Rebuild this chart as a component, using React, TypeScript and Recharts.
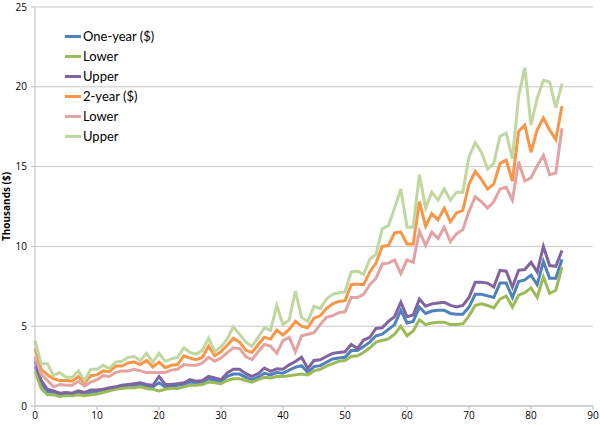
import React from 'react';
import { LineChart, Line, XAxis, YAxis, CartesianGrid } from 'recharts';

const ages = Array.from({ length: 86 }, (_, i) => i);

const oneYear = [
  2.5, 1.4, 0.9, 0.85, 0.75, 0.75, 0.75, 0.8, 0.8, 0.85,
  0.9, 1.0, 1.05, 1.15, 1.2, 1.25, 1.3, 1.35, 1.25, 1.2,
  1.45, 1.2, 1.25, 1.3, 1.35, 1.5, 1.45, 1.5, 1.7, 1.6,
  1.55, 1.85, 2.0, 2.0, 1.8, 1.65, 1.8, 2.05, 1.95, 2.1,
  2.05, 2.25, 2.43, 2.53, 2.11, 2.47, 2.53, 2.74, 2.95, 3.01,
  3.05, 3.47, 3.47, 3.72, 4.0, 4.4, 4.5, 4.8, 5.1, 6.0,
  5.2, 5.3, 6.2, 5.8, 5.95, 6.0, 6.0, 5.8, 5.75, 5.75,
  6.2, 7.0, 7.0, 6.9, 6.8, 7.7, 7.7, 6.8, 7.8, 7.9,
  8.2, 7.6, 9.05, 8.0, 8.0, 9.2,
];

const oneLower = [
  2.2, 1.1, 0.7, 0.7, 0.6, 0.65, 0.65, 0.7, 0.65, 0.7,
  0.75, 0.85, 0.95, 1.05, 1.1, 1.15, 1.15, 1.2, 1.1, 1.05,
  0.95, 1.05, 1.1, 1.1, 1.2, 1.3, 1.3, 1.35, 1.5, 1.45,
  1.4, 1.6, 1.7, 1.7, 1.6, 1.5, 1.65, 1.8, 1.75, 1.85,
  1.85, 1.9, 1.95, 2.0, 1.95, 2.2, 2.3, 2.5, 2.65, 2.8,
  2.85, 3.1, 3.15, 3.35, 3.65, 4.0, 4.1, 4.2, 4.5, 5.0,
  4.4, 4.7, 5.4, 5.1, 5.2, 5.25, 5.25, 5.1, 5.1, 5.15,
  5.65, 6.3, 6.4, 6.3, 6.15, 6.7, 6.9, 6.2, 6.95, 7.1,
  7.4, 6.8, 8.1, 7.05, 7.25, 8.7,
];

const oneUpper = [
  2.8, 1.6, 1.05, 0.95, 0.8, 0.85, 0.8, 0.95, 0.85, 1.0,
  1.0, 1.05, 1.15, 1.2, 1.3, 1.35, 1.4, 1.45, 1.35, 1.3,
  1.85, 1.35, 1.35, 1.4, 1.45, 1.65, 1.55, 1.6, 1.86, 1.76,
  1.65, 2.07, 2.3, 2.3, 2.02, 1.86, 2.02, 2.38, 2.17, 2.33,
  2.31, 2.58, 2.79, 3.06, 2.35, 2.85, 2.9, 3.1, 3.3, 3.35,
  3.4, 3.85, 3.6, 4.13, 4.3, 4.86, 4.9, 5.3, 5.6, 6.5,
  5.6, 5.7, 6.7, 6.25, 6.4, 6.45, 6.5, 6.3, 6.2, 6.3,
  6.8, 7.75, 7.75, 7.7, 7.45, 8.5, 8.45, 7.45, 8.5, 8.55,
  9.0, 8.4, 10.0, 8.8, 8.75, 9.75,
];

const twoYear = [
  3.6, 2.3, 1.95, 1.7, 1.6, 1.6, 1.55, 1.85, 1.45, 1.9,
  1.95, 2.2, 2.15, 2.5, 2.5, 2.7, 2.75, 2.6, 2.85, 2.45,
  2.75, 2.4, 2.55, 2.6, 3.15, 3.0, 2.9, 3.05, 3.75, 3.15,
  3.4, 3.8, 4.25, 4.0, 3.5, 3.35, 3.85, 4.3, 4.2, 4.75,
  4.45, 4.8, 5.3, 5.0, 4.9, 5.5, 5.65, 6.1, 6.4, 6.55,
  6.6, 7.6, 7.65, 7.6, 8.4, 8.95, 10.0, 10.05, 10.85, 10.9,
  10.15, 10.15, 12.8, 11.25, 12.05, 11.65, 12.4, 11.55, 12.1, 12.25,
  13.9, 14.7, 14.2, 13.6, 13.9, 15.2, 15.4, 14.1, 17.2, 17.6,
  15.9, 17.3, 18.05, 17.3, 16.7, 18.8,
];

const twoLower = [
  3.1, 2.0, 1.6, 1.2, 1.35, 1.3, 1.3, 1.55, 1.25, 1.5,
  1.65, 1.9, 1.85, 2.1, 2.2, 2.2, 2.3, 2.2, 2.1, 2.1,
  2.1, 2.1, 2.25, 2.3, 2.6, 2.55, 2.55, 2.7, 3.05, 2.8,
  3.0, 3.35, 3.65, 3.6, 3.1, 2.9, 3.4, 3.85, 3.75, 3.3,
  4.1, 4.3, 3.4, 4.4, 4.5, 4.6, 5.1, 5.55, 5.65, 5.85,
  5.9, 6.8, 6.8, 7.0, 7.6, 8.0, 8.9, 8.95, 9.15, 8.3,
  9.15, 9.0, 10.95, 10.05, 10.9, 10.5, 11.2, 10.3, 10.8, 11.05,
  12.2, 13.1, 12.8, 12.4, 12.8, 13.6, 13.7, 12.9, 15.3, 14.1,
  14.3, 15.05, 15.7, 14.5, 14.6, 17.4,
];

const twoUpper = [
  4.1, 2.65, 2.65, 1.9, 2.1, 1.8, 1.8, 2.2, 1.6, 2.3,
  2.3, 2.55, 2.35, 2.75, 2.8, 3.05, 3.1, 2.85, 3.3, 2.75,
  3.3, 2.8, 2.95, 3.05, 3.65, 3.35, 3.25, 3.5, 4.25, 3.4,
  3.7, 4.2, 4.95, 4.5, 4.0, 3.75, 4.3, 4.9, 4.75, 6.3,
  5.1, 5.4, 7.2, 5.55, 5.3, 6.25, 6.1, 6.7, 7.0, 7.1,
  7.15, 8.4, 8.45, 8.25, 9.2, 9.5, 11.1, 11.3, 12.4, 13.6,
  11.2, 11.2, 14.5, 12.4, 13.4, 12.9, 13.6, 12.9, 13.4, 13.4,
  15.6, 16.5, 15.9, 14.85, 15.2, 16.9, 17.1, 15.5, 19.4, 21.2,
  17.6, 19.3, 20.4, 20.3, 18.7, 20.2,
];

const xTicks = [0, 10, 20, 30, 40, 50, 60, 70, 80, 90];
const yTicks = [0, 5, 10, 15, 20, 25];

const seriesNames = ['One-year ($)', 'Lower', 'Upper', '2-year ($)', 'Lower', 'Upper'];
const seriesKeys = ['oneYear', 'oneLower', 'oneUpper', 'twoYear', 'twoLower', 'twoUpper'];
const seriesColors = ['#4f81bd', '#9bbb59', '#8064a2', '#f79646', '#e3a3a2', '#c0d8a0'];
const seriesValues = [oneYear, oneLower, oneUpper, twoYear, twoLower, twoUpper];

const data = ages.map((age, i) => {
  const row: Record<string, number> = { age };
  seriesKeys.forEach((k, j) => {
    row[k] = seriesValues[j][i];
  });
  return row;
});

const tickStyle = { fontSize: 10, fill: '#000', fontFamily: 'Open Sans, sans-serif' };

export default function App() {
  return (
    <div style={{ position: 'absolute', left: 0, top: 0, width: 600, height: 425, background: '#fff' }}>
      <LineChart width={600} height={425} data={data} margin={{ top: 7, right: 7, bottom: 0, left: 0 }}>
        <CartesianGrid vertical={false} stroke="#c8c8c8" strokeWidth={1} />
        <XAxis
          dataKey="age"
          type="number"
          domain={[0, 90]}
          ticks={xTicks}
          height={19}
          tickSize={4}
          tickMargin={2}
          stroke="#bdbdbd"
          tick={tickStyle}
          interval={0}
        />
        <YAxis
          type="number"
          domain={[0, 25]}
          ticks={yTicks}
          width={35}
          tickSize={4}
          tickMargin={4}
          stroke="#bdbdbd"
          tick={tickStyle}
          interval={0}
          label={{
            value: 'Thousands ($)',
            angle: -90,
            position: 'insideLeft',
            offset: 6,
            style: { textAnchor: 'middle', fontSize: 10, fontWeight: 'bold', fill: '#000', fontFamily: 'Open Sans, sans-serif' },
          }}
        />
        {seriesKeys.map((k, j) => (
          <Line
            key={k}
            type="linear"
            dataKey={k}
            name={seriesNames[j]}
            stroke={seriesColors[j]}
            strokeWidth={3}
            dot={false}
            isAnimationActive={false}
          />
        ))}
      </LineChart>
      <div style={{ position: 'absolute', left: 65, top: 26, fontFamily: 'Lato, sans-serif', fontSize: 13, color: '#000' }}>
        {seriesNames.map((n, j) => (
          <div key={j} style={{ height: 20, display: 'flex', alignItems: 'center' }}>
            <span style={{ display: 'inline-block', width: 16, height: 3, background: seriesColors[j], marginRight: 2 }} />
            <span>{n}</span>
          </div>
        ))}
      </div>
    </div>
  );
}
